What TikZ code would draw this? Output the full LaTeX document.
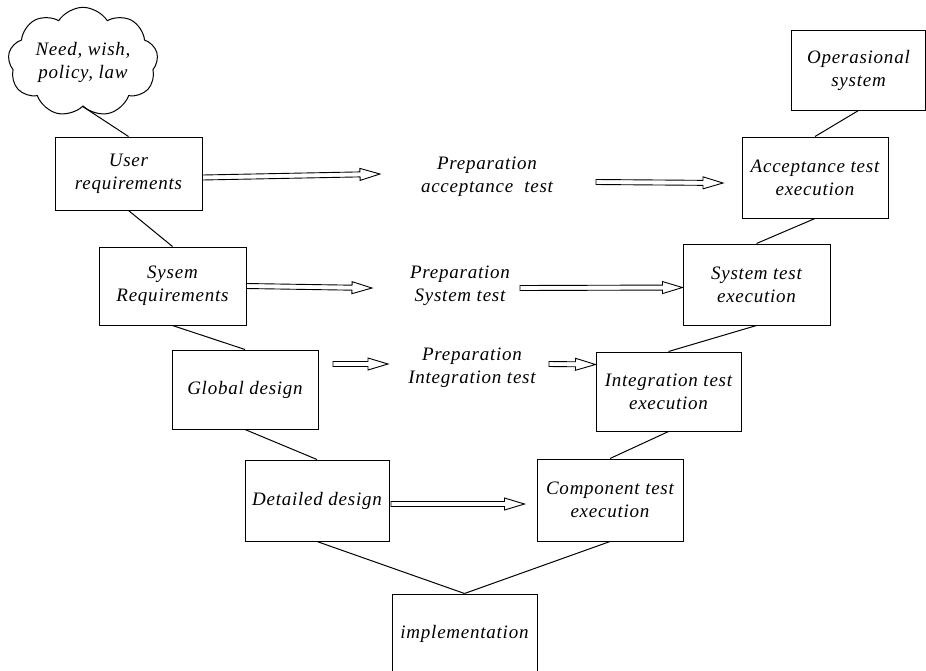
\documentclass[tikz,border=0pt]{standalone}
\usepackage{fontspec}
\setmainfont{Liberation Serif}[LetterSpace=4]
\usetikzlibrary{shapes.symbols,calc}
\begin{document}
\begin{tikzpicture}[x=1pt,y=-1pt,
  every node/.style={font=\fontsize{19}{23}\selectfont\itshape, align=center},
  box/.style={draw, line width=1pt, inner sep=0pt},
  link/.style={line width=1pt},
  harrow/.style={line width=0.9pt, to path={
    let \p1=(\tikztostart), \p2=(\tikztotarget),
        \n1={atan2(\y2-\y1,\x2-\x1)}, \n2={veclen(\x2-\x1,\y2-\y1)} in
    {[shift={(\p1)}, rotate=\n1]
      (0pt,2.5pt) -- (\n2-20pt,2.5pt) -- (\n2-20pt,6pt) -- (\n2,0pt)
      -- (\n2-20pt,-6pt) -- (\n2-20pt,-2.5pt) -- (0pt,-2.5pt) -- cycle}}}
]
\useasboundingbox (0,0) rectangle (926,670);
\clip (0,0) rectangle (926,670);

% left branch
\node[cloud, draw, line width=1pt, cloud puffs=9, cloud puff arc=115, aspect=1.5,
      minimum width=150pt, minimum height=95pt, inner sep=0pt] (cloud) at (83,62) {Need, wish,\\policy, law};
\node[box, minimum width=147pt, minimum height=73pt] (ureq) at (128.5,173.5) {User\\requirements};
\node[box, minimum width=147pt, minimum height=78pt] (sreq) at (172.5,286) {Sysem\\Requirements};
\node[box, minimum width=146pt, minimum height=79pt] (gdes) at (245,389.5) {Global design};
\node[box, minimum width=144pt, minimum height=81pt] (ddes) at (317,500.5) {Detailed design};
\node[box, minimum width=145pt, minimum height=100pt] (impl) at (464.5,644) {};
\node (impltext) at (464.5,634) {implementation};

% right branch
\node[box, minimum width=146pt, minimum height=82pt] (ctest) at (610,500) {Component test\\execution};
\node[box, minimum width=145pt, minimum height=79pt] (itest) at (668.5,391.5) {Integration test\\execution};
\node[box, minimum width=147pt, minimum height=81pt] (stest) at (756.5,284.5) {System test\\execution};
\node[box, minimum width=146pt, minimum height=81pt] (atest) at (815,177.5) {Acceptance test\\execution};
\node[box, minimum width=134pt, minimum height=80pt] (opsys) at (858.5,70) {Operasional\\system};

% preparation labels
\node (pacc) at (487,177) {Preparation\\acceptance\ \ test};
\node (psys) at (460,286) {Preparation\\System test};
\node (pint) at (472,368) {Preparation\\Integration test};

% V connections
\draw[link] (cloud.south) -- (ureq.north);
\draw[link] (ureq.south) -- (sreq.north);
\draw[link] (sreq.south) -- (gdes.north);
\draw[link] (gdes.south) -- (ddes.north);
\draw[link] (ddes.south) -- (impl.north);
\draw[link] (ctest.south) -- (impl.north);
\draw[link] (itest.south) -- (ctest.north);
\draw[link] (stest.south) -- (itest.north);
\draw[link] (atest.south) -- (stest.north);
\draw[link] (opsys.south) -- (atest.north);

% free arrow ends
\coordinate (a1e) at (380,174);
\coordinate (a2s) at (596,182);
\coordinate (a2e) at (723,183);
\coordinate (b1e) at (372,288);
\coordinate (b2s) at (520,288);
\coordinate (c1s) at (333,364);
\coordinate (c1e) at (388,364);
\coordinate (c2s) at (549,364);
\coordinate (d1s) at (391,504);

% hollow arrows
\draw[harrow] ([yshift=-4pt]ureq.east) to (a1e);
\draw[harrow] (a2s) to (a2e);
\draw[harrow] (sreq.east) to (b1e);
\draw[harrow] (b2s) to ([yshift=-3pt]stest.west);
\draw[harrow] (c1s) to (c1e);
\draw[harrow] (c2s) to ([yshift=27pt]itest.west);
\draw[harrow] (d1s) to ([xshift=-12pt,yshift=-4pt]ctest.west);
\end{tikzpicture}
\end{document}
